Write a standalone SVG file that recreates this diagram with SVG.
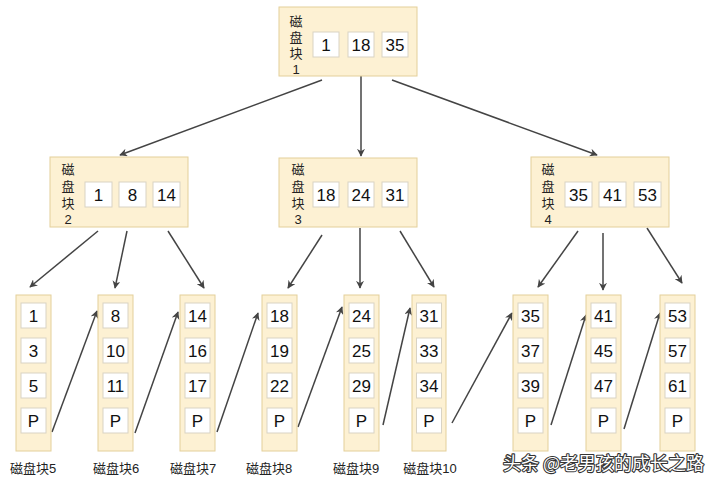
<svg xmlns="http://www.w3.org/2000/svg" width="720" height="484" viewBox="0 0 720 484">
<defs>
<style>
.blk{fill:#fdf1d3;stroke:#e3cf9a;stroke-width:1}
.key{fill:#ffffff;stroke:#d9d3c4;stroke-width:1}
.num{font-family:"Liberation Sans","Noto Sans CJK SC",sans-serif;font-size:17px;fill:#111;text-anchor:middle}
.lbl{font-family:"Liberation Sans","Noto Sans CJK SC",sans-serif;font-size:13px;fill:#222;text-anchor:middle}
.cap{font-family:"Liberation Sans","Noto Sans CJK SC",sans-serif;font-size:13px;fill:#222;text-anchor:middle}
.edge{stroke:#444;stroke-width:1.5;fill:none;marker-end:url(#arr)}
.wm{font-family:"Noto Sans CJK SC",sans-serif;font-size:18px;fill:#ffffff;stroke:#333;stroke-width:2.2;paint-order:stroke;stroke-linejoin:round}
</style>
<marker id="arr" viewBox="0 0 10 10" refX="9" refY="5" markerWidth="8" markerHeight="8" markerUnits="userSpaceOnUse" orient="auto">
<path d="M0,0 L10,5 L0,10 L3,5 Z" fill="#444"/>
</marker>
</defs>
<rect width="720" height="484" fill="#ffffff"/>

<g id="connectors">
<line class="edge" x1="322" y1="80" x2="120" y2="155"/>
<line class="edge" x1="361" y1="76" x2="361" y2="156"/>
<line class="edge" x1="392" y1="80" x2="597" y2="155"/>
<line class="edge" x1="98" y1="231" x2="30" y2="287"/>
<line class="edge" x1="127" y1="231" x2="115" y2="288"/>
<line class="edge" x1="168" y1="231" x2="204" y2="288"/>
<line class="edge" x1="322" y1="235" x2="288" y2="288"/>
<line class="edge" x1="360" y1="228" x2="360" y2="288"/>
<line class="edge" x1="400" y1="231" x2="434" y2="287"/>
<line class="edge" x1="578" y1="231" x2="538" y2="287"/>
<line class="edge" x1="603" y1="233" x2="603" y2="290"/>
<line class="edge" x1="647" y1="228" x2="682" y2="283"/>
<line class="edge" x1="52" y1="432" x2="97" y2="311"/>
<line class="edge" x1="135" y1="433" x2="178" y2="312"/>
<line class="edge" x1="217" y1="432" x2="258" y2="313"/>
<line class="edge" x1="298" y1="427" x2="342" y2="307"/>
<line class="edge" x1="383" y1="425" x2="410" y2="308"/>
<line class="edge" x1="452" y1="423" x2="512" y2="313"/>
<line class="edge" x1="551" y1="425" x2="586" y2="315"/>
<line class="edge" x1="624" y1="429" x2="660" y2="313"/>
</g>

<g id="block1">
<rect class="blk" x="279" y="7" width="138" height="69"/>
<text class="lbl"><tspan x="296" y="26">磁</tspan><tspan x="296" y="42">盘</tspan><tspan x="296" y="58">块</tspan><tspan x="296" y="74">1</tspan></text>
<rect class="key" x="313" y="32" width="26" height="25"/><text class="num" x="326" y="50.5">1</text>
<rect class="key" x="348" y="32" width="26" height="25"/><text class="num" x="361" y="50.5">18</text>
<rect class="key" x="382" y="32" width="26" height="25"/><text class="num" x="395" y="50.5">35</text>
</g>

<g id="block2">
<rect class="blk" x="50" y="157" width="138" height="70"/>
<text class="lbl"><tspan x="68" y="174">磁</tspan><tspan x="68" y="191">盘</tspan><tspan x="68" y="208">块</tspan><tspan x="68" y="224">2</tspan></text>
<rect class="key" x="85" y="182" width="27" height="25"/><text class="num" x="98.5" y="200.5">1</text>
<rect class="key" x="119" y="182" width="27" height="25"/><text class="num" x="132.5" y="200.5">8</text>
<rect class="key" x="153" y="182" width="27" height="25"/><text class="num" x="166.5" y="200.5">14</text>
</g>

<g id="block3">
<rect class="blk" x="279" y="158" width="138" height="69"/>
<text class="lbl"><tspan x="298" y="174">磁</tspan><tspan x="298" y="191">盘</tspan><tspan x="298" y="208">块</tspan><tspan x="298" y="224">3</tspan></text>
<rect class="key" x="313" y="182" width="26" height="25"/><text class="num" x="326" y="200.5">18</text>
<rect class="key" x="348" y="182" width="26" height="25"/><text class="num" x="361" y="200.5">24</text>
<rect class="key" x="382" y="182" width="26" height="25"/><text class="num" x="395" y="200.5">31</text>
</g>

<g id="block4">
<rect class="blk" x="531" y="157" width="138" height="70"/>
<text class="lbl"><tspan x="548" y="174">磁</tspan><tspan x="548" y="191">盘</tspan><tspan x="548" y="208">块</tspan><tspan x="548" y="224">4</tspan></text>
<rect class="key" x="565" y="182" width="27" height="25"/><text class="num" x="578.5" y="200.5">35</text>
<rect class="key" x="599" y="182" width="27" height="25"/><text class="num" x="612.5" y="200.5">41</text>
<rect class="key" x="634" y="182" width="27" height="25"/><text class="num" x="647.5" y="200.5">53</text>
</g>

<g id="block5">
<rect class="blk" x="16" y="295" width="35" height="156"/>
<rect class="key" x="21" y="303" width="25" height="25"/><text class="num" x="33.5" y="321.5">1</text>
<rect class="key" x="21" y="338" width="25" height="25"/><text class="num" x="33.5" y="356.5">3</text>
<rect class="key" x="21" y="373" width="25" height="25"/><text class="num" x="33.5" y="391.5">5</text>
<rect class="key" x="21" y="408" width="25" height="25"/><text class="num" x="33.5" y="426.5">P</text>
<text class="cap" x="33" y="473">磁盘块5</text>
</g>

<g id="block6">
<rect class="blk" x="98" y="295" width="35" height="156"/>
<rect class="key" x="103" y="303" width="25" height="25"/><text class="num" x="115.5" y="321.5">8</text>
<rect class="key" x="103" y="338" width="25" height="25"/><text class="num" x="115.5" y="356.5">10</text>
<rect class="key" x="103" y="373" width="25" height="25"/><text class="num" x="115.5" y="391.5">11</text>
<rect class="key" x="103" y="408" width="25" height="25"/><text class="num" x="115.5" y="426.5">P</text>
<text class="cap" x="116" y="473">磁盘块6</text>
</g>

<g id="block7">
<rect class="blk" x="180" y="295" width="35" height="156"/>
<rect class="key" x="185" y="303" width="25" height="25"/><text class="num" x="197.5" y="321.5">14</text>
<rect class="key" x="185" y="338" width="25" height="25"/><text class="num" x="197.5" y="356.5">16</text>
<rect class="key" x="185" y="373" width="25" height="25"/><text class="num" x="197.5" y="391.5">17</text>
<rect class="key" x="185" y="408" width="25" height="25"/><text class="num" x="197.5" y="426.5">P</text>
<text class="cap" x="193" y="473">磁盘块7</text>
</g>

<g id="block8">
<rect class="blk" x="262" y="295" width="35" height="156"/>
<rect class="key" x="267" y="303" width="25" height="25"/><text class="num" x="279.5" y="321.5">18</text>
<rect class="key" x="267" y="338" width="25" height="25"/><text class="num" x="279.5" y="356.5">19</text>
<rect class="key" x="267" y="373" width="25" height="25"/><text class="num" x="279.5" y="391.5">22</text>
<rect class="key" x="267" y="408" width="25" height="25"/><text class="num" x="279.5" y="426.5">P</text>
<text class="cap" x="269" y="473">磁盘块8</text>
</g>

<g id="block9">
<rect class="blk" x="344" y="295" width="35" height="156"/>
<rect class="key" x="349" y="303" width="25" height="25"/><text class="num" x="361.5" y="321.5">24</text>
<rect class="key" x="349" y="338" width="25" height="25"/><text class="num" x="361.5" y="356.5">25</text>
<rect class="key" x="349" y="373" width="25" height="25"/><text class="num" x="361.5" y="391.5">29</text>
<rect class="key" x="349" y="408" width="25" height="25"/><text class="num" x="361.5" y="426.5">P</text>
<text class="cap" x="356" y="473">磁盘块9</text>
</g>

<g id="block10">
<rect class="blk" x="412" y="295" width="34" height="156"/>
<rect class="key" x="416.5" y="303" width="25" height="25"/><text class="num" x="429" y="321.5">31</text>
<rect class="key" x="416.5" y="338" width="25" height="25"/><text class="num" x="429" y="356.5">33</text>
<rect class="key" x="416.5" y="373" width="25" height="25"/><text class="num" x="429" y="391.5">34</text>
<rect class="key" x="416.5" y="408" width="25" height="25"/><text class="num" x="429" y="426.5">P</text>
<text class="cap" x="430" y="473">磁盘块10</text>
</g>

<g id="block11">
<rect class="blk" x="513" y="295" width="35" height="156"/>
<rect class="key" x="518" y="303" width="25" height="25"/><text class="num" x="530.5" y="321.5">35</text>
<rect class="key" x="518" y="338" width="25" height="25"/><text class="num" x="530.5" y="356.5">37</text>
<rect class="key" x="518" y="373" width="25" height="25"/><text class="num" x="530.5" y="391.5">39</text>
<rect class="key" x="518" y="408" width="25" height="25"/><text class="num" x="530.5" y="426.5">P</text>
</g>

<g id="block12">
<rect class="blk" x="586" y="295" width="35" height="156"/>
<rect class="key" x="591" y="303" width="25" height="25"/><text class="num" x="603.5" y="321.5">41</text>
<rect class="key" x="591" y="338" width="25" height="25"/><text class="num" x="603.5" y="356.5">45</text>
<rect class="key" x="591" y="373" width="25" height="25"/><text class="num" x="603.5" y="391.5">47</text>
<rect class="key" x="591" y="408" width="25" height="25"/><text class="num" x="603.5" y="426.5">P</text>
</g>

<g id="block13">
<rect class="blk" x="660" y="295" width="35" height="156"/>
<rect class="key" x="665" y="303" width="25" height="25"/><text class="num" x="677.5" y="321.5">53</text>
<rect class="key" x="665" y="338" width="25" height="25"/><text class="num" x="677.5" y="356.5">57</text>
<rect class="key" x="665" y="373" width="25" height="25"/><text class="num" x="677.5" y="391.5">61</text>
<rect class="key" x="665" y="408" width="25" height="25"/><text class="num" x="677.5" y="426.5">P</text>
</g>

<text class="wm" x="503" y="470">头条 @老男孩的成长之路</text>
</svg>
